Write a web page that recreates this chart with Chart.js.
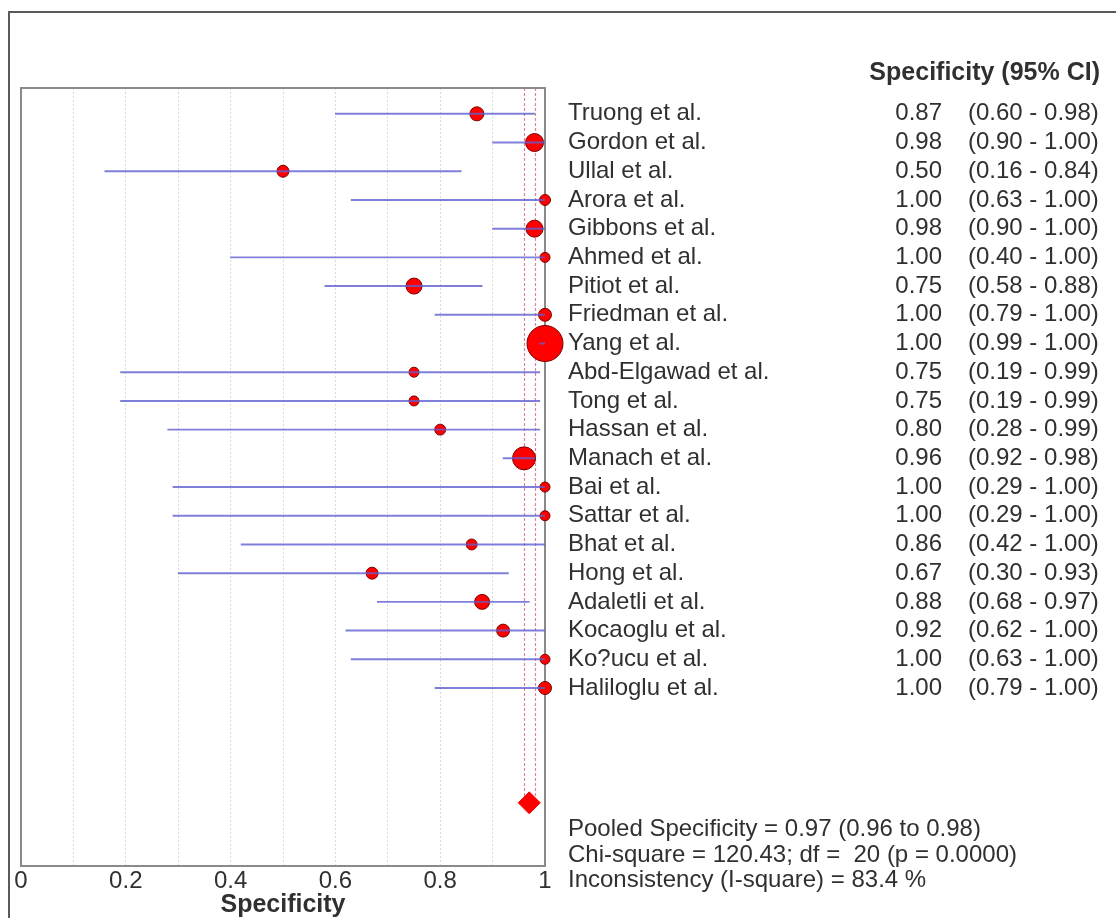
<!DOCTYPE html>
<html>
<head>
<meta charset="utf-8">
<title>Forest plot - Specificity</title>
<script src="https://cdn.jsdelivr.net/npm/chart.js@4.4.1/dist/chart.umd.min.js"></script>
<style>
  html, body { margin: 0; padding: 0; background: #fff; }
  #wrap { position: relative; width: 1116px; height: 918px; }
</style>
</head>
<body>
<div id="wrap"><canvas id="forest"></canvas></div>
<script>
// study data
const studies = [
  'Truong et al.', 'Gordon et al.', 'Ullal et al.', 'Arora et al.', 'Gibbons et al.',
  'Ahmed et al.', 'Pitiot et al.', 'Friedman et al.', 'Yang et al.', 'Abd-Elgawad et al.',
  'Tong et al.', 'Hassan et al.', 'Manach et al.', 'Bai et al.', 'Sattar et al.',
  'Bhat et al.', 'Hong et al.', 'Adaletli et al.', 'Kocaoglu et al.', 'Ko?ucu et al.',
  'Haliloglu et al.'
];
const specificity = [0.87, 0.98, 0.50, 1.00, 0.98, 1.00, 0.75, 1.00, 1.00, 0.75,
                     0.75, 0.80, 0.96, 1.00, 1.00, 0.86, 0.67, 0.88, 0.92, 1.00, 1.00];
const ciLow  = [0.60, 0.90, 0.16, 0.63, 0.90, 0.40, 0.58, 0.79, 0.99, 0.19,
                0.19, 0.28, 0.92, 0.29, 0.29, 0.42, 0.30, 0.68, 0.62, 0.63, 0.79];
const ciHigh = [0.98, 1.00, 0.84, 1.00, 1.00, 1.00, 0.88, 1.00, 1.00, 0.99,
                0.99, 0.99, 0.98, 1.00, 1.00, 1.00, 0.93, 0.97, 1.00, 1.00, 1.00];
// relative study weight (marker area)
const weights = [4.9, 8.1, 3.6, 3.0, 7.2, 2.5, 6.4, 4.2, 32.4, 2.5,
                 2.5, 3.0, 13.2, 2.5, 2.5, 3.0, 3.6, 5.6, 4.2, 2.5, 4.2];

const pooled = 0.97, pooledLow = 0.96, pooledHigh = 0.98;
const statsLines = [
  'Pooled Specificity = 0.97 (0.96 to 0.98)',
  'Chi-square = 120.43; df =  20 (p = 0.0000)',
  'Inconsistency (I-square) = 83.4 %'
];
const xTickLabels = ['0', '0.2', '0.4', '0.6', '0.8', '1'];
const columnHeader = 'Specificity (95% CI)';
const axisTitle = 'Specificity';

const pooledRow = studies.length + 3;
const FONT = 'Liberation Sans, Arial, sans-serif';
const TEXT = '#303030';

const fmt = v => v.toFixed(2);

const forestDecor = {
  id: 'forestDecor',
  beforeDraw(chart) {
    const ctx = chart.ctx;
    // outer frame (top + left only, the rest is cropped)
    ctx.save();
    ctx.strokeStyle = '#5a5a5a';
    ctx.lineWidth = 2;
    ctx.beginPath();
    ctx.moveTo(9, 918);
    ctx.lineTo(9, 12);
    ctx.lineTo(1116, 12);
    ctx.stroke();
    ctx.restore();
  },
  beforeDatasetsDraw(chart) {
    const { ctx, chartArea: a, scales: { x, y } } = chart;
    ctx.save();
    // pooled CI reference lines
    ctx.strokeStyle = '#e0809a';
    ctx.lineWidth = 1.2;
    ctx.setLineDash([3, 2]);
    const yEnd = y.getPixelForValue(pooledRow);
    [pooledLow, pooledHigh].forEach(v => {
      const px = Math.round(x.getPixelForValue(v)) + 0.5;
      ctx.beginPath();
      ctx.moveTo(px, a.top);
      ctx.lineTo(px, yEnd);
      ctx.stroke();
    });
    ctx.setLineDash([]);
    // plot box
    ctx.strokeStyle = '#8a8a8a';
    ctx.lineWidth = 2;
    ctx.strokeRect(a.left, a.top, a.right - a.left, a.bottom - a.top);
    ctx.restore();
  },
  afterDraw(chart) {
    const { ctx, scales: { y } } = chart;
    ctx.save();
    ctx.fillStyle = TEXT;
    ctx.textBaseline = 'middle';

    ctx.font = 'bold 25px ' + FONT;
    ctx.textAlign = 'right';
    ctx.fillText(columnHeader, 1100, 73);

    ctx.font = '24px ' + FONT;
    studies.forEach((name, i) => {
      const py = y.getPixelForValue(i);
      ctx.textAlign = 'left';
      ctx.fillText(name, 568, py);
      ctx.textAlign = 'right';
      ctx.fillText(fmt(specificity[i]), 942, py);
      ctx.textAlign = 'left';
      ctx.fillText('(' + fmt(ciLow[i]) + ' - ' + fmt(ciHigh[i]) + ')', 968, py);
    });

    const base = y.getPixelForValue(pooledRow);
    ctx.textAlign = 'left';
    statsLines.forEach((line, k) => {
      ctx.fillText(line, 568, base + 27 + k * 25.5);
    });
    ctx.restore();
  }
};

new Chart(document.getElementById('forest'), {
  type: 'scatter',
  data: {
    datasets: [
      {
        type: 'bar',
        label: '95% CI',
        indexAxis: 'y',
        data: studies.map((s, i) => ({ x: [ciLow[i], ciHigh[i]], y: i })),
        backgroundColor: 'rgba(95, 95, 210, 0.8)',
        barThickness: 1.3,
        borderWidth: 0,
        order: 0
      },
      {
        label: 'Specificity',
        data: studies.map((s, i) => ({ x: specificity[i], y: i })),
        pointRadius: weights.map(w => Math.sqrt(w * 10)),
        pointBackgroundColor: '#ff0000',
        pointBorderColor: '#7a0000',
        pointBorderWidth: 1,
        clip: false,
        order: 1
      },
      {
        label: 'Pooled',
        data: [{ x: pooled, y: pooledRow }],
        pointStyle: 'rectRot',
        pointRadius: 11,
        pointBackgroundColor: '#ff0000',
        pointBorderColor: '#ee0000',
        pointBorderWidth: 1,
        clip: false,
        order: 1
      }
    ]
  },
  options: {
    responsive: true,
    maintainAspectRatio: false,
    animation: false,
    layout: { padding: { top: 88, left: 21, right: 571, bottom: 0 } },
    plugins: {
      legend: { display: false },
      tooltip: { enabled: false }
    },
    scales: {
      x: {
        type: 'linear',
        min: 0,
        max: 1,
        offset: false,
        grid: { color: '#dadada', lineWidth: 1, drawTicks: false, offset: false },
        border: { display: false, dash: [2, 2] },
        ticks: {
          stepSize: 0.1,
          autoSkip: false,
          maxRotation: 0,
          padding: 1,
          color: TEXT,
          font: { family: FONT, size: 24 },
          callback: (v, i) => (i % 2 === 0 ? xTickLabels[i / 2] : '')
        },
        title: {
          display: true,
          text: axisTitle,
          color: TEXT,
          font: { family: FONT, size: 25, weight: 'bold', lineHeight: 1 },
          padding: { top: 0, bottom: 0 }
        },
        afterFit: scale => { scale.height = 52; }
      },
      y: {
        type: 'linear',
        display: false,
        reverse: true,
        offset: false,
        grid: { offset: false },
        min: -0.9,
        max: 26.2
      }
    }
  },
  plugins: [forestDecor]
});
</script>
</body>
</html>
